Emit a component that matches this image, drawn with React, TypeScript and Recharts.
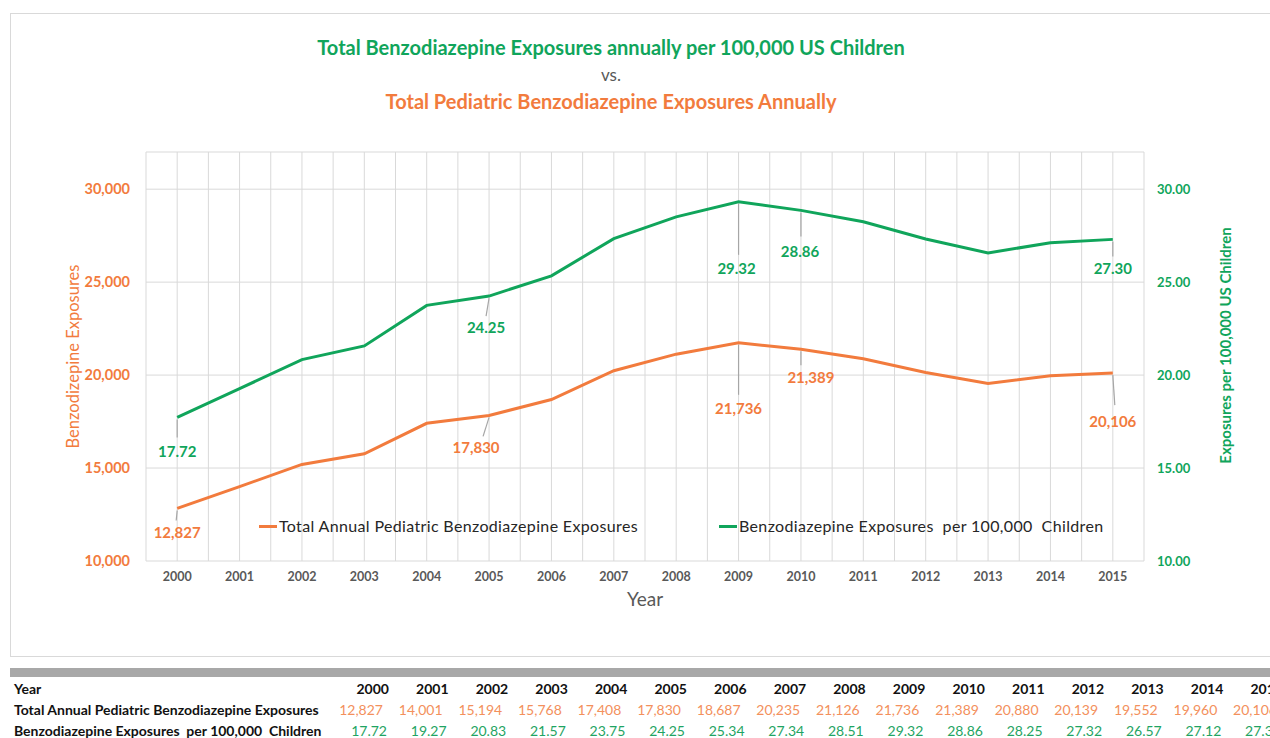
import React from "react";
import {
  CartesianGrid,
  ComposedChart,
  LabelList,
  Line,
  XAxis,
  YAxis,
} from "recharts";

const years = [
  "2000", "2001", "2002", "2003", "2004", "2005", "2006", "2007",
  "2008", "2009", "2010", "2011", "2012", "2013", "2014", "2015",
];
const totalExposures = [
  12827, 14001, 15194, 15768, 17408, 17830, 18687, 20235,
  21126, 21736, 21389, 20880, 20139, 19552, 19960, 20106,
];
const ratePer100k = [
  17.72, 19.27, 20.83, 21.57, 23.75, 24.25, 25.34, 27.34,
  28.51, 29.32, 28.86, 28.25, 27.32, 26.57, 27.12, 27.3,
];
const leftTicks = [10000, 15000, 20000, 25000, 30000];
const rightTicks = [10, 15, 20, 25, 30];

const totalName = "Total Annual Pediatric Benzodiazepine Exposures";
const rateName = "Benzodiazepine Exposures  per 100,000  Children";

const ORANGE = "#f27b3d";
const GREEN = "#10a55b";
const FONT = "Lato, 'Open Sans', sans-serif";

// leader-line callouts (styling only): index -> line end / text offset from the point
type Callout = { lx: number; ly: number; tx: number; ty: number };
const greenCallouts: Record<number, Callout> = {
  0: { lx: 0, ly: 20, tx: 0, ty: 34 },
  5: { lx: -3, ly: 20, tx: -3, ty: 31 },
  9: { lx: 0, ly: 53, tx: -2, ty: 66 },
  10: { lx: 0, ly: 26, tx: -1, ty: 41 },
  15: { lx: 0, ly: 17, tx: 0, ty: 29 },
};
const orangeCallouts: Record<number, Callout> = {
  0: { lx: -1, ly: 12, tx: 0, ty: 24 },
  5: { lx: -6, ly: 21, tx: -13, ty: 32 },
  9: { lx: 0, ly: 52, tx: 0, ty: 65 },
  10: { lx: 0, ly: 16, tx: 10, ty: 28 },
  15: { lx: 2, ly: 32, tx: 0, ty: 48 },
};

const data = years.map((year, i) => ({
  year,
  total: totalExposures[i],
  rate: ratePer100k[i],
}));

const fmtInt = (v: number) => v.toLocaleString("en-US");
const fmtRate = (v: number) => v.toFixed(2);

function makeCallout(
  map: Record<number, Callout>,
  color: string,
  fmt: (v: number) => string
) {
  return (props: any) => {
    const { x, y, index, value } = props;
    const c = map[index];
    if (!c) return null;
    return (
      <g>
        <line x1={x} y1={y + 2} x2={x + c.lx} y2={y + c.ly} stroke="#a6a6a6" strokeWidth={1.2} />
        <text
          x={x + c.tx}
          y={y + c.ty}
          textAnchor="middle"
          dominantBaseline="central"
          fill={color}
          fontFamily={FONT}
          fontWeight={700}
          fontSize={15}
        >
          {fmt(Number(value))}
        </text>
      </g>
    );
  };
}

function ChartLegend() {
  const item = (color: string, text: string, width?: number) => (
    <div style={{ display: "flex", alignItems: "center", width, flex: "none" }}>
      <span style={{ display: "inline-block", width: 18, height: 3, background: color }} />
      <span style={{ marginLeft: 2, whiteSpace: "pre" }}>{text}</span>
    </div>
  );
  return (
    <div style={{ position: "absolute", left: 259, top: 515, display: "flex", fontFamily: FONT, fontSize: 16, lineHeight: "22px", color: "#262626", letterSpacing: 0.35 }}>
      {item(ORANGE, totalName, 460)}
      {item(GREEN, rateName)}
    </div>
  );
}

function TableSection() {
  const colW = 59.6;
  const cell = (content: React.ReactNode, color: string, bold: boolean, pad: number, key: string | number) => (
    <div key={key} style={{ width: colW, paddingRight: pad, boxSizing: "border-box", textAlign: "right", color, fontWeight: bold ? 700 : 400, flex: "none" }}>
      {content}
    </div>
  );
  const rowStyle: React.CSSProperties = { display: "flex", height: 21, alignItems: "center", whiteSpace: "nowrap", lineHeight: "14px" };
  const head: React.CSSProperties = { width: 315.4, flex: "none", fontWeight: 700, color: "#111", whiteSpace: "pre" };
  return (
    <div style={{ position: "absolute", left: 0, top: 666, width: 1270, height: 72, overflow: "hidden", fontFamily: FONT, fontSize: 14 }}>
      <div style={{ position: "absolute", left: 10, top: 2, width: 1260, height: 9, background: "#a8a8a8" }} />
      <div style={{ position: "absolute", left: 14, top: 12 }}>
        <div style={rowStyle}>
          <div style={head}>Year</div>
          {years.map((y) => cell(y, "#111", true, 0, y))}
        </div>
        <div style={rowStyle}>
          <div style={head}>{totalName}</div>
          {totalExposures.map((v, i) => cell(fmtInt(v), "#f3905c", false, 6, i))}
        </div>
        <div style={rowStyle}>
          <div style={head}>{rateName}</div>
          {ratePer100k.map((v, i) => cell(fmtRate(v), "#1fa463", false, 2, i))}
        </div>
      </div>
    </div>
  );
}

export default function App() {
  const half = years.length * 2;
  return (
    <div style={{ position: "fixed", left: 0, top: 0, width: 1270, height: 738, background: "#fff", overflow: "hidden", fontFamily: FONT }}>
      <div style={{ position: "absolute", left: 10, top: 13, width: 1270, height: 642, border: "1px solid #d9d9d9" }} />
      <div style={{ position: "absolute", left: 0, top: 34, width: 1222, textAlign: "center", fontWeight: 700, fontSize: 20, lineHeight: "27px" }}>
        <div style={{ color: GREEN }}>Total Benzodiazepine Exposures annually per 100,000 US Children</div>
        <div style={{ color: "#595959", fontWeight: 400, fontSize: 17 }}>vs.</div>
        <div style={{ color: ORANGE }}>Total Pediatric Benzodiazepine Exposures Annually</div>
      </div>
      <div style={{ position: "absolute", left: 0, top: 0 }}>
        <ComposedChart
          width={1270}
          height={660}
          data={data}
          margin={{ top: 152, right: 0, bottom: 69, left: 0 }}
        >
          <CartesianGrid
            yAxisId="left"
            stroke="#d9d9d9"
            verticalCoordinatesGenerator={({ offset }: any) =>
              Array.from({ length: half + 1 }, (_, k) => offset.left + (offset.width * k) / half)
            }
          />
          <XAxis
            dataKey="year"
            scale="band"
            axisLine={false}
            tickLine={false}
            tickSize={0}
            tickMargin={11}
            height={30}
            interval={0}
            tick={{ fill: "#595959", fontSize: 12.5, fontWeight: 700, fontFamily: FONT }}
            label={{ value: "Year", position: "bottom", offset: 2, fill: "#595959", fontSize: 19, fontFamily: FONT }}
          />
          <YAxis
            yAxisId="left"
            orientation="left"
            width={146}
            domain={[10000, 32000]}
            ticks={leftTicks}
            axisLine={false}
            tickLine={false}
            tickSize={0}
            tickMargin={16}
            tickFormatter={fmtInt}
            tick={{ fill: ORANGE, fontSize: 14.5, fontWeight: 700, fontFamily: FONT }}
            label={(p: any) => {
              const vb = p.viewBox;
              const cx = 73;
              const cy = vb.y + vb.height / 2;
              return (
                <text x={cx} y={cy} transform={`rotate(-90 ${cx} ${cy})`} textAnchor="middle" dominantBaseline="central" fill={ORANGE} fontSize={16.5} fontFamily={FONT}>
                  Benzodizepine Exposures
                </text>
              );
            }}
          />
          <YAxis
            yAxisId="right"
            orientation="right"
            width={126}
            domain={[10, 32]}
            ticks={rightTicks}
            axisLine={false}
            tickLine={false}
            tickSize={0}
            tickMargin={13}
            tickFormatter={fmtRate}
            tick={{ fill: GREEN, fontSize: 13, fontWeight: 700, fontFamily: FONT }}
            label={(p: any) => {
              const vb = p.viewBox;
              const cx = 1225;
              const cy = vb.y + vb.height / 2 - 11;
              return (
                <text x={cx} y={cy} transform={`rotate(-90 ${cx} ${cy})`} textAnchor="middle" dominantBaseline="central" fill={GREEN} fontSize={15} fontWeight={700} fontFamily={FONT}>
                  Exposures per 100,000 US Children
                </text>
              );
            }}
          />
          <Line
            yAxisId="left"
            dataKey="total"
            name={totalName}
            stroke={ORANGE}
            strokeWidth={3}
            dot={false}
            type="linear"
            isAnimationActive={false}
          >
            <LabelList dataKey="total" content={makeCallout(orangeCallouts, ORANGE, fmtInt)} />
          </Line>
          <Line
            yAxisId="right"
            dataKey="rate"
            name={rateName}
            stroke={GREEN}
            strokeWidth={3}
            dot={false}
            type="linear"
            isAnimationActive={false}
          >
            <LabelList dataKey="rate" content={makeCallout(greenCallouts, GREEN, fmtRate)} />
          </Line>
        </ComposedChart>
      </div>
      <ChartLegend />
      <TableSection />
    </div>
  );
}
